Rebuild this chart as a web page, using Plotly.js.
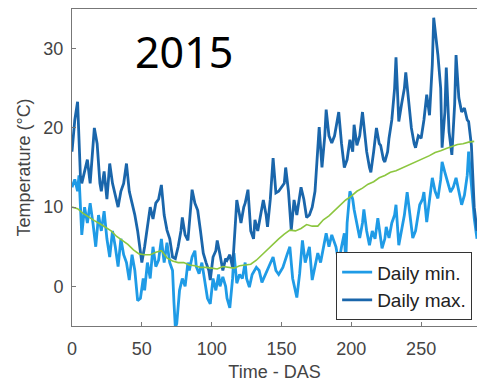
<!DOCTYPE html>
<html>
<head>
<meta charset="utf-8">
<script src="https://cdn.plot.ly/plotly-3.0.1.min.js"></script>
<style>html,body{margin:0;padding:0;background:#fff;}#chart{width:477px;height:382px;}</style>
</head>
<body>
<div id="chart"></div>
<script>
// Daily maximum temperature (day after sowing, °C)
const maxDays = [0,2,4,5,6,7,9,11,13,15,16,18,20,21,23,25,27,29,31,33,35,37,39,41,43,45,47,49,50,52,54,56,58,60,62,64,66,68,70,72,74,76,78,79,81,83,85,86,88,90,92,94,96,98,99,101,103,104,106,108,110,111,113,115,117,118,120,121,123,124,126,128,130,131,133,135,137,139,140,142,144,146,148,150,152,153,155,157,159,161,163,164,166,168,170,172,174,175,177,179,181,182,184,186,188,190,191,193,195,197,199,201,202,204,206,208,210,211,213,214,216,218,220,221,223,224,226,227,229,231,232,233,234,236,238,239,241,243,245,246,248,250,252,254,256,258,259,261,262,264,265,267,268,270,272,274,275,277,279,281,283,284,286,288,290];
const maxTemp = [17,21,23.3,18,14,13,14.5,16,13,17,20,18,13,12,14.5,11,15.5,13,11.5,10,12,13,15.5,12,10.5,9,7,4,3,5,7.5,10,8.5,10.5,11,12.8,9,7.1,6,3.7,3.5,5,7,8.7,6.5,5.8,10,12.2,10.5,9.6,7,4.2,3,2,0.8,3.7,4.5,5.8,4,2,3.5,3.3,4,2.4,8,10.9,9,8,10,10.5,12.2,7,6,8.4,7,9,10.9,9,7.5,11,16.2,11.8,12,12.5,13,15,12,7.1,10.9,9,11,12.5,11,8.7,9,10,12,15,20.1,15,19,22.3,19,18.1,19,21,22,18,15,16,18.5,17,20.4,17.8,19,22,19,17,15,14.4,17,20,18,17.8,16,15.7,17,18.7,21,25,28.9,24,20.8,23,25,27,23,20,18,17.5,19,18.7,21,24.2,21.6,28,33.9,31,29.2,25,17.5,22,27.6,19.5,16.6,23,29.2,23.8,22,22.5,21,20.8,17.8,10,7];

// Daily minimum temperature
const minDays = [0,2,4,5,7,9,11,13,15,17,19,21,23,25,27,29,31,33,35,37,39,41,43,45,47,49,51,52,54,56,58,60,62,64,66,68,70,72,73,74,75,77,79,81,83,84,86,88,89,91,93,95,97,99,101,103,105,106,108,110,111,113,115,116,118,120,122,124,125,127,129,132,134,136,139,141,144,146,148,151,154,156,158,161,163,165,167,170,172,174,176,178,180,182,184,186,189,191,193,195,196,197,199,201,202,204,206,208,209,211,213,215,217,219,221,222,224,225,227,229,231,232,234,236,238,240,242,244,246,248,249,251,252,254,256,258,260,262,264,265,267,269,271,273,275,277,279,281,283,284,286,288,290];
const minTemp = [12.5,13.5,12,14,6.5,10,8,10.5,8,5,9,7,9.5,6,3.7,7,5,2.5,6,4,3,0.8,4,2,-1.8,-1.5,1,-0.5,3,1,5,2.5,3.3,6,3,5.5,3,2,-2,-5.2,-4.7,-0.5,1,0,3,2,3.7,4.5,2.5,1.6,3,0.5,-1.5,-2.2,1,-0.5,1.5,0,1.2,0,-1.5,-2.7,1,4.2,0.4,1.5,1,3,1,-0.1,1.5,2.4,2,0.5,1.6,2.5,3.7,2,1.5,2.4,4,5,1,-1.4,1.6,5.8,3,5,0.8,2.4,4.2,3,5,6.7,5,6.5,5,3,5,6.7,3,8,12,11,9.7,8,6.1,8,9.7,7,5.2,7,6,8.6,6,4.8,6,7.5,6.1,8,9,10.3,5.2,7,9,11.9,9,6.1,7,9,10.3,11,11.9,8.1,11,13.7,12,11.1,13.5,15.7,14.4,13,11.9,12.5,13.7,12,10.3,11.5,14,17,13,8.6,6];

// Smoothed mean temperature (green curve)
const meanDays = [0,4,8,12,16,20,24,28,32,36,40,44,48,52,56,60,64,68,72,76,80,84,88,92,96,100,104,108,112,116,120,124,128,132,136,140,144,148,152,156,160,164,168,172,176,180,184,188,192,196,200,204,208,212,216,220,224,228,232,236,240,244,248,252,256,260,264,268,272,276,280,284,288];
const meanTemp = [10,9.8,9.2,8.7,8.3,7.9,7.4,7.0,6.3,5.8,5.3,4.6,4.1,4.0,4.0,4.3,4.5,3.6,3.2,3.0,3.0,2.7,2.6,2.4,2.4,2.3,2.2,2.5,2.4,2.3,2.6,2.7,2.8,3.3,4.0,4.7,5.3,6.0,6.6,7.1,7.0,7.3,7.8,7.6,7.6,8.4,8.9,9.6,10.2,10.9,11.4,12.0,12.4,12.9,13.2,13.7,14.0,14.4,14.6,14.9,15.3,15.6,15.9,16.2,16.5,16.9,17.1,17.4,17.6,17.9,18.0,18.2,18.3];

const xTicks = [0,50,100,150,200,250];
const yTicks = [0,10,20,30];

const traces = [
  {x: minDays, y: minTemp, type: 'scatter', mode: 'lines', name: 'Daily min.',
   line: {color: '#1f9be6', width: 2.8}},
  {x: maxDays, y: maxTemp, type: 'scatter', mode: 'lines', name: 'Daily max.',
   line: {color: '#1a66ab', width: 2.8}},
  {x: meanDays, y: meanTemp, type: 'scatter', mode: 'lines', name: 'Mean',
   line: {color: '#8cc63f', width: 1.6}, showlegend: false}
];

const axisFont = {family: 'Liberation Sans, Arial, sans-serif', size: 18, color: '#444'};

const layout = {
  width: 477, height: 382,
  margin: {l: 72, r: 0, t: 9, b: 56},
  paper_bgcolor: '#fff', plot_bgcolor: '#fff',
  showlegend: true,
  legend: {x: 0.988, y: 0.018, xanchor: 'right', yanchor: 'bottom',
    bgcolor: '#fff', bordercolor: '#333', borderwidth: 1,
    font: {family: 'Liberation Sans, Arial, sans-serif', size: 19, color: '#222'}},
  xaxis: {range: [0, 290], tickvals: xTicks, ticktext: xTicks.map(String),
    ticks: 'inside', ticklen: 4, tickcolor: '#777', showgrid: false, zeroline: false,
    showline: true, linecolor: '#777', linewidth: 1, mirror: true,
    tickfont: axisFont, ticklabelstandoff: 6,
    title: {text: 'Time - DAS', font: axisFont, standoff: 8}},
  yaxis: {range: [-5, 35], tickvals: yTicks, ticktext: yTicks.map(String),
    ticks: 'inside', ticklen: 4, tickcolor: '#777', showgrid: false, zeroline: false,
    showline: true, linecolor: '#777', linewidth: 1, mirror: true,
    tickfont: axisFont, ticklabelstandoff: 4,
    title: {text: 'Temperature (°C)', font: axisFont, standoff: 8}},
  annotations: [{text: '2015', xref: 'paper', yref: 'paper', x: 0.277, y: 0.8675,
    xanchor: 'center', yanchor: 'middle', showarrow: false,
    font: {family: 'Noto Sans, sans-serif', size: 43, color: '#000'}}]
};

Plotly.newPlot('chart', traces, layout, {displayModeBar: false, staticPlot: true});
</script>
</body>
</html>
